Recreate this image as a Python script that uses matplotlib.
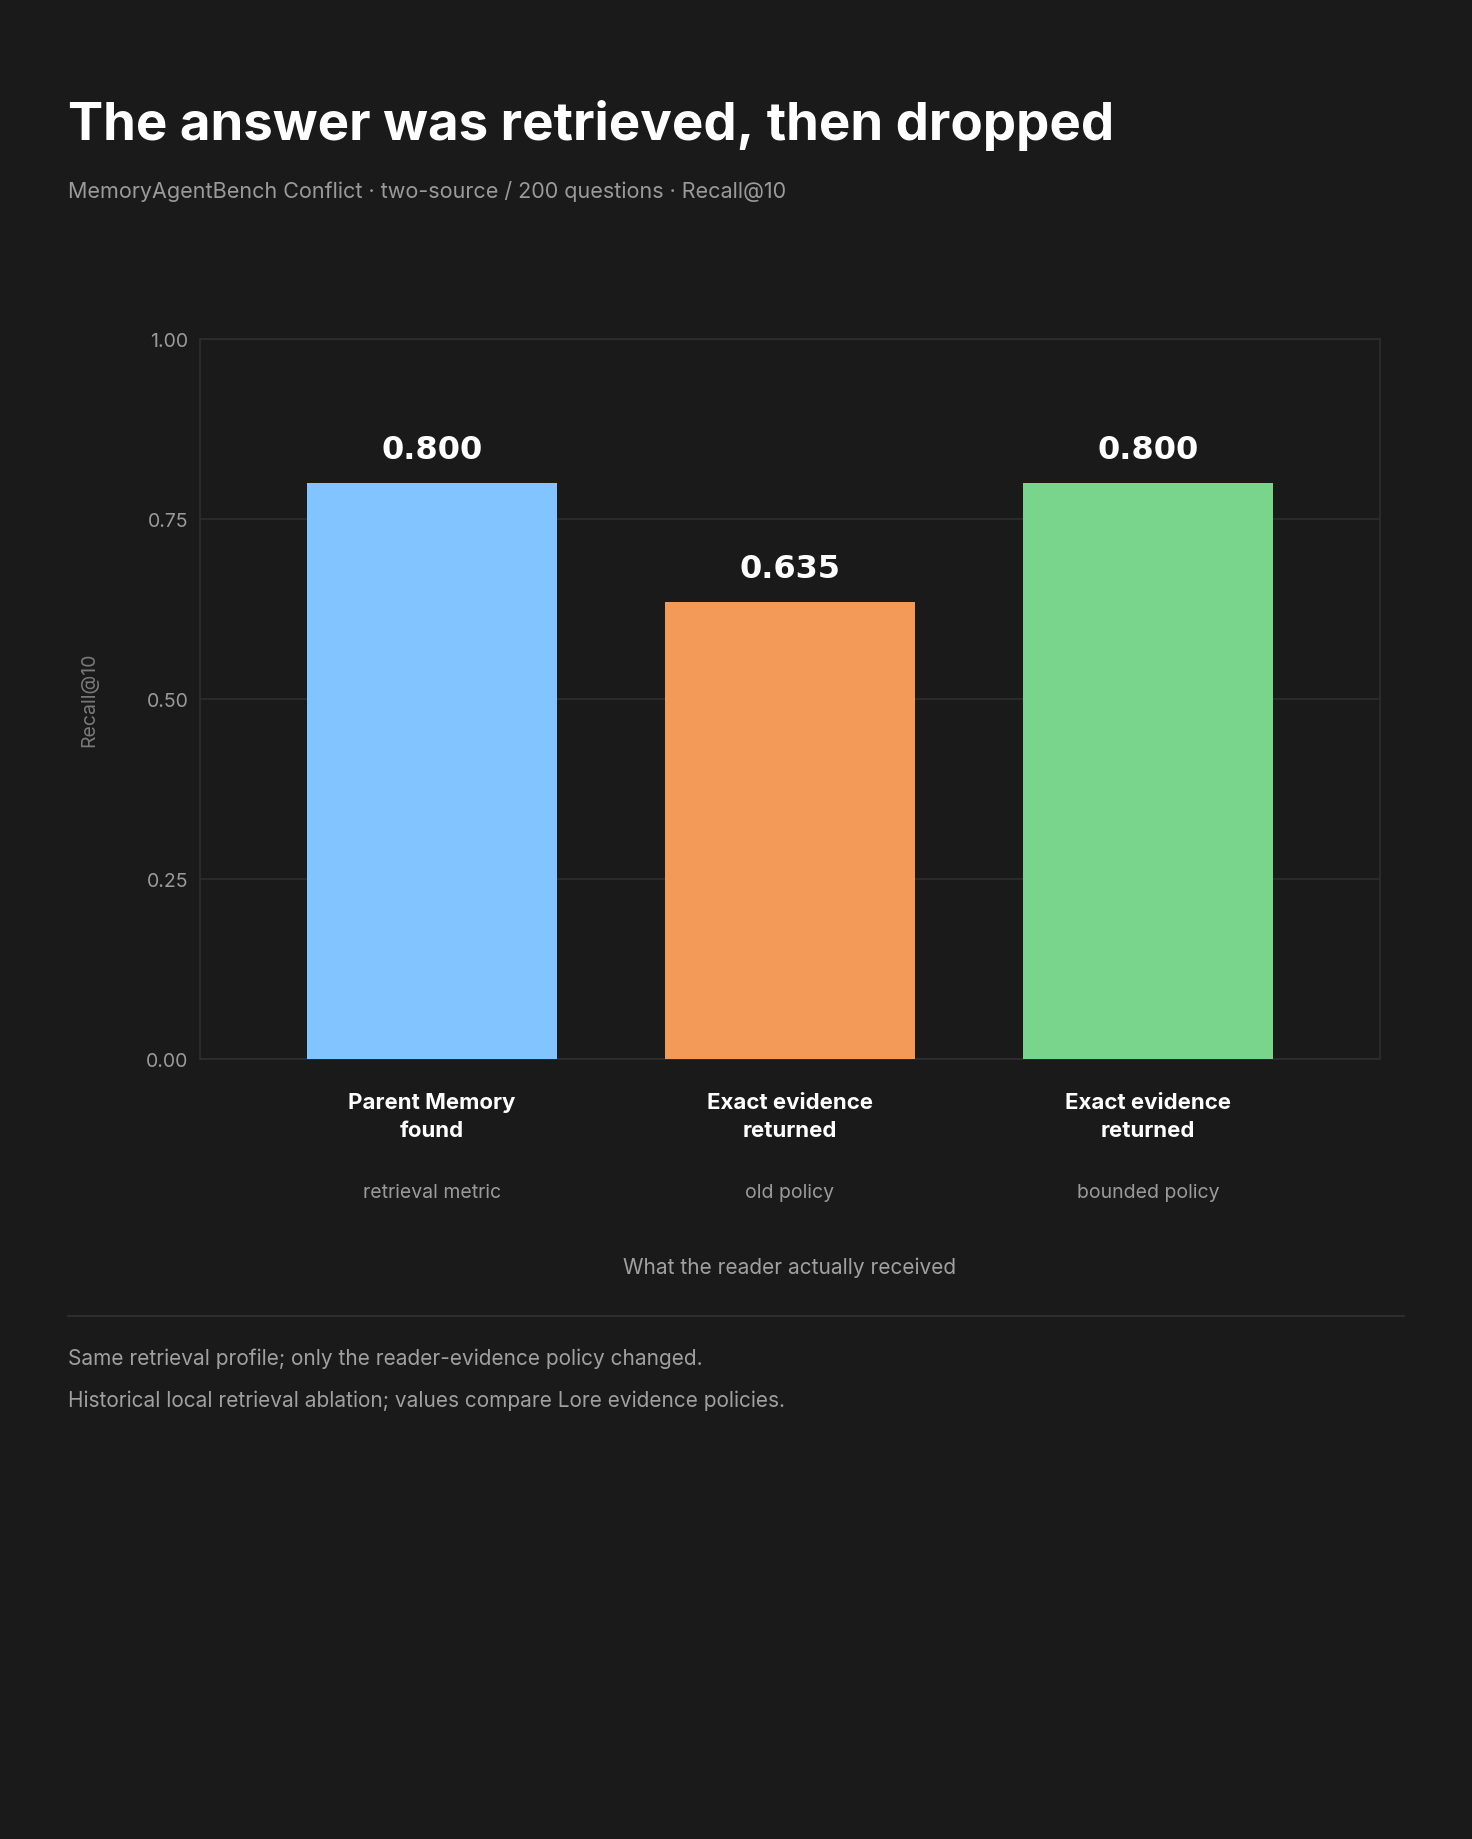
import matplotlib
matplotlib.use("Agg")
import matplotlib.pyplot as plt

categories = ["Parent Memory\nfound", "Exact evidence\nreturned", "Exact evidence\nreturned"]
sublabels = ["retrieval metric", "old policy", "bounded policy"]
values = [0.800, 0.635, 0.800]
colors = ["#82c4ff", "#f49a58", "#79d58b"]
yticks = [0.0, 0.25, 0.5, 0.75, 1.0]

plt.rcParams['font.family'] = ['Inter', 'DejaVu Sans']
BG = "#1a1a1a"
fig = plt.figure(figsize=(14.72, 18.4), dpi=100, facecolor=BG)
H = 1568.0; W = 1254.0
ax = fig.add_axes([170/W, 1-903/H, (1176-170)/W, (903-290)/H], facecolor=BG)
x = list(range(len(values)))
ax.bar(x, values, width=0.7, color=colors, zorder=3)
for xi, v in zip(x, values):
    ax.text(xi, v + 0.025, f"{v:.3f}", ha="center", va="bottom", color="white",
            fontsize=23, fontweight="bold", family=['DejaVu Sans'])
ax.set_xlim(-0.65, 2.65)
ax.set_ylim(0, 1.0)
ax.set_yticks(yticks)
ax.set_yticklabels([f"{t:.2f}" for t in yticks], color="#9a9a9a", fontsize=14)
ax.set_xticks(x)
ax.set_xticklabels(categories, color="white", fontsize=16, fontweight="bold", linespacing=1.5)
ax.tick_params(axis="both", length=0, pad=8)
ax.tick_params(axis="x", pad=24)
ax.grid(axis="y", color="#2e2e2e", linewidth=1.2, zorder=0)
for s in ax.spines.values():
    s.set_color("#2e2e2e"); s.set_linewidth(1.2)
for xi, s in zip(x, sublabels):
    ax.text(xi, -0.185, s, transform=ax.get_xaxis_transform(), ha="center", va="center",
            color="#9a9a9a", fontsize=14)
fig.text(673/W, 1-1080/H, "What the reader actually received", ha="center", va="center",
         color="#a0a0a0", fontsize=15)
fig.text(76/W, 1-596/H, "Recall@10", rotation=90, ha="center", va="center", color="#7a7a7a", fontsize=14)

fig.text(58/W, 1-107/H, "The answer was retrieved, then dropped", ha="left", va="center",
         color="white", fontsize=38, fontweight="bold")
fig.text(58/W, 1-163/H, "MemoryAgentBench Conflict · two-source / 200 questions · Recall@10",
         ha="left", va="center", color="#9a9a9a", fontsize=15.5)
fig.add_artist(plt.Line2D([58/W, 1196/W], [1-1122/H, 1-1122/H], color="#333333", linewidth=1.2))
fig.text(58/W, 1-1158/H, "Same retrieval profile; only the reader-evidence policy changed.",
         ha="left", va="center", color="#a0a0a0", fontsize=15)
fig.text(58/W, 1-1194/H, "Historical local retrieval ablation; values compare Lore evidence policies.",
         ha="left", va="center", color="#a0a0a0", fontsize=15)
fig.savefig("out.png", facecolor=BG)
